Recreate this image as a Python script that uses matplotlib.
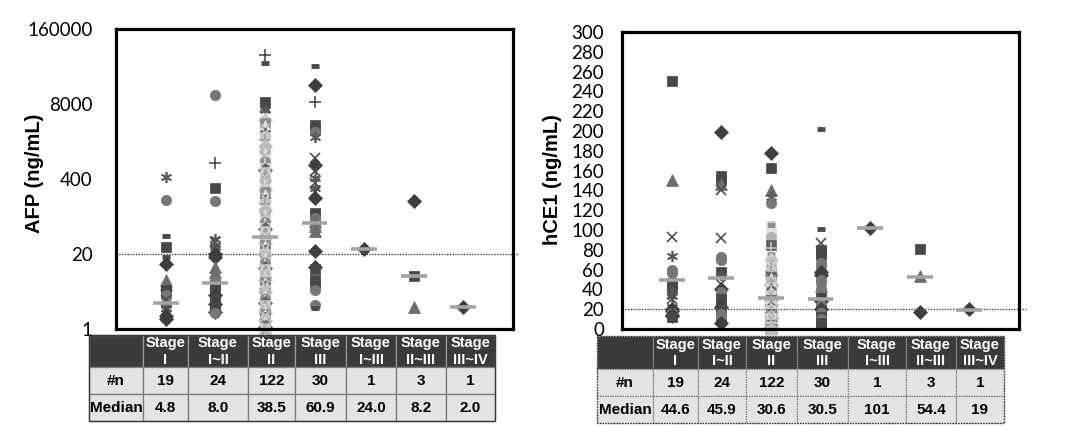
import matplotlib
matplotlib.use("Agg")
import matplotlib.pyplot as plt
from matplotlib.patches import Rectangle
from matplotlib.ticker import FixedLocator, NullLocator, FixedFormatter

# ---------------- data ----------------
stages = ["Stage\nI", "Stage\nI~II", "Stage\nII", "Stage\nIII", "Stage\nI~III", "Stage\nII~III", "Stage\nIII~IV"]
n_counts = ["19", "24", "122", "30", "1", "3", "1"]
afp_median_text = ["4.8", "8.0", "38.5", "60.9", "24.0", "8.2", "2.0"]
hce1_median_text = ["44.6", "45.9", "30.6", "30.5", "101", "54.4", "19"]

afp_ticks = [1, 20, 400, 8000, 160000]
afp_tick_labels = ["1", "20", "400", "8000", "160000"]
hce1_ticks = list(range(0, 301, 20))

cutoff_afp = 20
cutoff_hce1 = 20

# median bar levels as drawn in the plot
afp_median_bar = [2.8, 6.4, 40, 68, 24, 8.2, 2.4]
hce1_median_bar = [50, 52, 31, 30, 102, 53, 19]

afp_stage1 = [430, 173, 41, 26, 17.8, 13.5, 7.1, 6.0, 4.8, 4.4, 3.9, 3.6, 3.2, 2.6, 2.3, 2.1, 1.9, 1.7, 1.5]
afp_stage12 = [11500, 757, 280, 168, 36, 32, 29, 26, 20, 17.5, 12, 9.8, 8.0, 6.8, 5.5, 4.8, 3.9, 3.4, 3.0, 2.7, 2.4, 2.2, 2.0, 1.9]
afp_stage2 = [57000, 41000, 8700, 7000, 6300, 4200, 3800, 3300, 2900, 2500,
              2200, 1900, 1700, 1500, 1300, 1150, 1000, 900, 800, 720,
              650, 580, 520, 470, 430, 390, 350, 320, 290, 260,
              240, 215, 195, 175, 160, 145, 130, 118, 105, 96,
              88, 80, 72, 66, 60, 55, 50, 46, 43, 40,
              38.5, 36, 33, 31, 29, 27, 25, 23.5, 22, 21,
              20, 19, 18, 17, 16, 15, 14, 13, 12.3, 11.5,
              10.8, 10.1, 9.5, 9.0, 8.4, 7.9, 7.4, 7.0, 6.6, 6.2,
              5.8, 5.5, 5.2, 4.9, 4.6, 4.3, 4.1, 3.9, 3.7, 3.5,
              3.3, 3.1, 2.95, 2.8, 2.65, 2.5, 2.4, 2.3, 2.2, 2.1,
              2.0, 1.92, 1.85, 1.78, 1.7, 1.63, 1.57, 1.5, 1.45, 1.4,
              1.35, 1.3, 1.26, 1.22, 1.18, 1.15, 1.12, 1.09, 1.06, 1.04,
              1.02, 1.0]
afp_stage3 = [37000, 17300, 8700, 3400, 3000, 2650, 2150, 930, 700, 560, 420, 345, 280, 240, 190,
              104, 90, 84, 75, 62, 55, 50, 23, 12, 11, 7, 6, 4.8, 2.6, 2.3]
afp_stage13 = [24.6]
afp_stage23 = [168, 8.4, 2.4]
afp_stage34 = [2.4]

hce1_stage1 = [251, 150, 93, 74, 60, 57, 46, 42, 38, 35, 33, 30, 22, 20, 18, 16, 14, 13, 12]
hce1_stage12 = [199, 155, 150, 146, 140, 92, 73, 70, 58, 55, 45, 40, 37, 33, 30, 25, 22, 20, 18, 15, 12, 10, 8, 6]
hce1_stage2 = [178, 163, 140, 133, 127, 107, 105, 97, 93, 85,
               82, 76, 70, 68, 66, 64, 62, 60, 58, 57,
               55, 53, 52, 50, 49, 47, 46, 45, 44, 42,
               41, 40, 39, 38, 37, 36, 35, 34, 33, 32,
               31.5, 31, 30.5, 30, 29.5, 29, 28, 27.5, 27, 26,
               25.5, 25, 24, 23.5, 23, 22, 21.5, 21, 20.5, 20,
               19.5, 19, 18.5, 18, 17.5, 17, 16.5, 16, 15.5, 15,
               14.5, 14, 13.5, 13, 12.5, 12, 11.5, 11, 10.5, 10,
               9.6, 9.2, 8.8, 8.4, 8, 7.6, 7.2, 6.8, 6.4, 6,
               5.6, 5.2, 4.8, 4.4, 4, 3.7, 3.4, 3.1, 2.8, 2.5,
               2.2, 2.0, 1.8, 1.6, 1.4, 1.2, 1.0, 0.9, 0.8, 0.7,
               0.6, 0.5, 0.5, 0.4, 0.4, 0.3, 0.3, 0.2, 0.2, 0.1,
               0.1, 0.0]
hce1_stage3 = [202, 101, 87, 80, 78, 75, 67, 63, 58, 55, 50, 46, 43, 40, 37, 34, 31, 28, 26, 24,
               22, 20, 18, 16, 14, 12, 10, 8, 6, 5]
hce1_stage13 = [102]
hce1_stage23 = [81, 54, 17]
hce1_stage34 = [20]

afp_groups = [afp_stage1, afp_stage12, afp_stage2, afp_stage3, afp_stage13, afp_stage23, afp_stage34]
hce1_groups = [hce1_stage1, hce1_stage12, hce1_stage2, hce1_stage3, hce1_stage13, hce1_stage23, hce1_stage34]

# ---------------- style ----------------
CYCLE = "Ds^xao+-"
afp_markers = [
    "ao-s-D^^ssooxaaxaDD",
    "o+soaxaaDD^^^ossDssDssD",
    "+-sxa" + "".join(CYCLE[i % 8] for i in range(117)),
    "-D+ssoaxDxaxaxDsso^^o^DDsssoo",
    "D", "Ds^", "D",
]
hce1_markers = [
    "s^xaoossaxaxaDDoDD",
    "Dss^xxoosaxDoossDssoooo",
    "Ds^ao--sos+-" + "".join(CYCLE[i % 8] for i in range(110)),
    "--xsssooDDoo^oo^sDsooDsoosoosso",
    "D", "s^D", "D",
]
MK = {'D': 'D', 's': 's', '^': '^', 'x': 'x', 'a': (6, 2, 0), 'o': 'o', '+': '+', '-': '_'}
SZ = {'D': 7, 's': 7.5, '^': 8, 'x': 7, 'a': 8, 'o': 7.5, '+': 9, '-': 6}
EW = {'D': 0.5, 's': 0.5, '^': 0.5, 'x': 1.2, 'a': 1.2, 'o': 0.5, '+': 1.1, '-': 3.5}
BASE = {'D': '#3e3e3e', 's': '#474747', '^': '#6c6c6c', 'x': '#4c4c4c', 'a': '#585858',
        'o': '#767676', '+': '#404040', '-': '#4a4a4a'}
LIGHT = ['#d4d4d4', '#c2c2c2', '#bcbcbc', '#dadada', '#a9a9a9', '#cccccc', '#8c8c8c',
         '#e0e0e0', '#b4b4b4', '#5e5e5e', '#c8c8c8', '#9a9a9a']

W, H = 1066, 436
fig = plt.figure(figsize=(W / 100, H / 100), dpi=100)
fig.patch.set_facecolor('white')
TICKFONT = ['Lato', 'DejaVu Sans']


def draw_groups(ax, groups, markers):
    for gi, (vals, mks) in enumerate(zip(groups, markers)):
        pos = gi + 1
        for k, v in enumerate(vals):
            m = mks[k % len(mks)]
            if gi == 2 and k >= 5:
                c = LIGHT[k % len(LIGHT)]
            else:
                c = BASE[m]
            ax.plot([pos], [v], ls='none', marker=MK[m], ms=SZ[m], color=c, mec=c,
                    mew=EW[m], zorder=2, clip_on=False)


def style_axes(ax, pad):
    for s in ax.spines.values():
        s.set_linewidth(2.3)
        s.set_color('black')
    ax.set_xlim(0, 8)
    ax.set_xticks([])
    ax.tick_params(axis='y', length=0, pad=pad, labelsize=13.5)
    for lab in ax.get_yticklabels():
        lab.set_fontfamily(TICKFONT)


# ---- AFP axes ----
ax1 = fig.add_axes([116 / W, 1 - 329 / H, 397 / W, 300 / H])
ax1.set_yscale('log', base=20)
ax1.set_ylim(1, 160000)
ax1.yaxis.set_major_locator(FixedLocator(afp_ticks))
ax1.yaxis.set_major_formatter(FixedFormatter(afp_tick_labels))
ax1.yaxis.set_minor_locator(NullLocator())
style_axes(ax1, 17)
draw_groups(ax1, afp_groups, afp_markers)
for i, m in enumerate(afp_median_bar):
    ax1.hlines(m, i + 1 - 0.26, i + 1 + 0.26, color='#a4a4a4', lw=2.6, zorder=3)
ax1.plot([0, 8.13], [cutoff_afp, cutoff_afp], ls=(0, (1, 1)), color='#444444', lw=1,
         clip_on=False, zorder=1)

# ---- hCE1 axes ----
ax2 = fig.add_axes([622 / W, 1 - 329 / H, 397 / W, 297 / H])
ax2.set_ylim(0, 300)
ax2.set_yticks(hce1_ticks)
ax2.set_yticklabels([str(t) for t in hce1_ticks])
style_axes(ax2, 13)
draw_groups(ax2, hce1_groups, hce1_markers)
for i, m in enumerate(hce1_median_bar):
    ax2.hlines(m, i + 1 - 0.26, i + 1 + 0.26, color='#a4a4a4', lw=2.6, zorder=3)
ax2.plot([0, 8.15], [cutoff_hce1, cutoff_hce1], ls=(0, (1, 1)), color='#444444', lw=1,
         clip_on=False, zorder=1)

# ---- y labels ----
fig.text(35 / W, 1 - 173 / H, "AFP (ng/mL)", rotation=90, ha='center', va='center',
         fontsize=14.5, fontweight='bold', family=['Liberation Sans', 'DejaVu Sans'])
fig.text(553 / W, 1 - 180 / H, "hCE1 (ng/mL)", rotation=90, ha='center', va='center',
         fontsize=14.5, fontweight='bold', family=['Liberation Sans', 'DejaVu Sans'])

# ---- tables ----
ax_t = fig.add_axes([0, 0, 1, 1], zorder=-1)
ax_t.set_xlim(0, W)
ax_t.set_ylim(H, 0)
ax_t.axis('off')

TFONT = ['Liberation Sans Narrow', 'Liberation Sans', 'DejaVu Sans']


def draw_table(cols, rows, median_vals, dotted):
    ls = (0, (1, 1)) if dotted else '-'
    row_labels = ["", "#n", "Median"]
    body = [stages, n_counts, median_vals]
    for r in range(3):
        y0, y1 = rows[r], rows[r + 1]
        for c in range(8):
            x0, x1 = cols[c], cols[c + 1]
            if r == 0:
                fc = '#3a3a3a'
                ec = '#9a9a9a'
            else:
                fc = '#e4e4e4'
                ec = '#7a7a7a'
            ax_t.add_patch(Rectangle((x0, y0), x1 - x0, y1 - y0, facecolor=fc,
                                     edgecolor=ec, lw=0.9, ls=ls))
            txt = row_labels[r] if c == 0 else body[r][c - 1]
            if txt:
                ax_t.text((x0 + x1) / 2, (y0 + y1) / 2 + 0.5, txt, ha='center', va='center',
                          color='white' if r == 0 else 'black', fontweight='bold',
                          fontsize=10.5 if r == 0 else 11, family=TFONT, linespacing=1.25)
    ax_t.add_patch(Rectangle((cols[0], rows[0]), cols[-1] - cols[0], rows[-1] - rows[0],
                             fill=False, edgecolor='#3a3a3a', lw=1.0, ls=ls))


draw_table([89, 143, 188, 248, 295, 346, 396, 446, 495], [335, 367, 394, 421],
           afp_median_text, False)
draw_table([597, 653, 698, 746, 797, 848, 906, 956, 1004], [336, 369, 396, 423],
           hce1_median_text, True)

fig.savefig("out.png", dpi=100)
